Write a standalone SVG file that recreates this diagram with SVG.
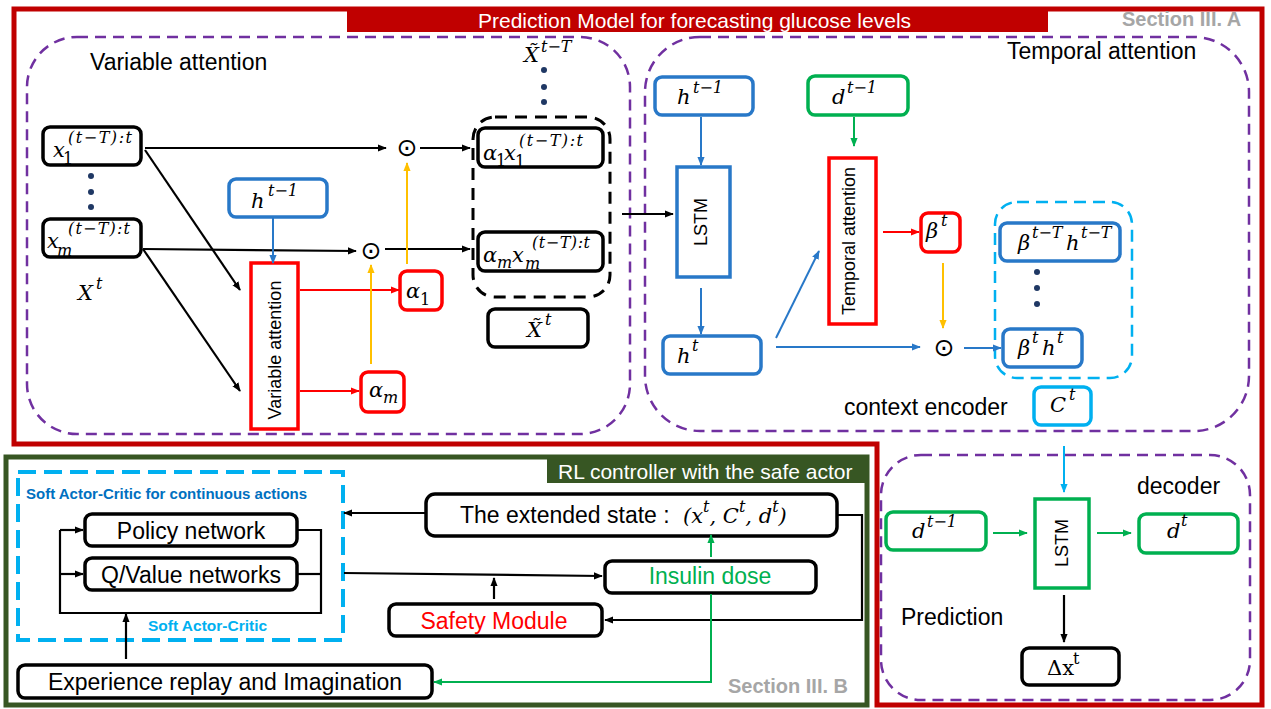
<svg xmlns="http://www.w3.org/2000/svg" width="1271" height="709" viewBox="0 0 1271 709">
<defs>
<style>
.lbl{font-family:"Liberation Sans",Arial,sans-serif;font-size:23px;fill:#000}
.m{font-family:"DejaVu Serif","Liberation Serif",serif;font-style:italic;font-size:21px;fill:#000}
.s{font-size:16px}
.up{font-style:normal}
.bk{fill:#fff;stroke:#000;stroke-width:3.5}
.bl{fill:#fff;stroke:#2878C8;stroke-width:3.5}
.rd{fill:#fff;stroke:#FF0000;stroke-width:3.5}
.gr{fill:#fff;stroke:#00B050;stroke-width:3.5}
.cy{fill:#fff;stroke:#00B0F0;stroke-width:3.5}
.pd{fill:none;stroke:#7030A0;stroke-width:2.5;stroke-dasharray:11 7}
.dot{fill:#1F3864}
.op{font-family:"DejaVu Sans",sans-serif;font-size:25px;fill:#000}
.k{fill:none;stroke:#000;stroke-width:2.2}
.b{fill:none;stroke:#2878C8;stroke-width:2}
.r{fill:none;stroke:#FF0000;stroke-width:2}
.g{fill:none;stroke:#00B050;stroke-width:2}
.y{fill:none;stroke:#FFC000;stroke-width:2}
.c{fill:none;stroke:#00B0F0;stroke-width:2}
.sec{font-family:"Liberation Sans",Arial,sans-serif;font-weight:bold;font-size:20px;fill:#A6A6A6}
.ban{font-family:"Liberation Sans",Arial,sans-serif;font-size:21px;fill:#fff}
.rot{font-family:"Liberation Sans",Arial,sans-serif;font-size:18px;fill:#000;text-anchor:middle}
</style>
<marker id="aK" viewBox="0 0 10 10" refX="9" refY="5" markerWidth="9" markerHeight="9" markerUnits="userSpaceOnUse" orient="auto"><path d="M0,1 L10,5 L0,9 Z" fill="#000"/></marker>
<marker id="aB" viewBox="0 0 10 10" refX="9" refY="5" markerWidth="9" markerHeight="9" markerUnits="userSpaceOnUse" orient="auto"><path d="M0,1 L10,5 L0,9 Z" fill="#2878C8"/></marker>
<marker id="aR" viewBox="0 0 10 10" refX="9" refY="5" markerWidth="9" markerHeight="9" markerUnits="userSpaceOnUse" orient="auto"><path d="M0,1 L10,5 L0,9 Z" fill="#FF0000"/></marker>
<marker id="aG" viewBox="0 0 10 10" refX="9" refY="5" markerWidth="9" markerHeight="9" markerUnits="userSpaceOnUse" orient="auto"><path d="M0,1 L10,5 L0,9 Z" fill="#00B050"/></marker>
<marker id="aY" viewBox="0 0 10 10" refX="9" refY="5" markerWidth="9" markerHeight="9" markerUnits="userSpaceOnUse" orient="auto"><path d="M0,1 L10,5 L0,9 Z" fill="#FFC000"/></marker>
<marker id="aC" viewBox="0 0 10 10" refX="9" refY="5" markerWidth="9" markerHeight="9" markerUnits="userSpaceOnUse" orient="auto"><path d="M0,1 L10,5 L0,9 Z" fill="#00B0F0"/></marker>
</defs>
<rect width="1271" height="709" fill="#fff"/>

<!-- Section frames -->
<g id="frame-prediction">
<path d="M14,9 H1262 V705 H877 V444 H14 Z" fill="none" stroke="#C00000" stroke-width="5"/>
<rect x="347" y="9" width="701" height="23" fill="#C00000"/>
<text class="ban" x="478" y="28">Prediction Model for forecasting glucose levels</text>
<text class="sec" x="1122" y="26">Section III. A</text>
</g>
<g id="frame-rl">
<rect x="6" y="457" width="861" height="248" fill="none" stroke="#375623" stroke-width="5"/>
<rect x="547" y="457" width="320" height="26" fill="#375623"/>
<text class="ban" x="558" y="479">RL controller with the safe actor</text>
<text class="sec" x="728" y="693">Section III. B</text>
</g>

<!-- Variable attention block -->
<g id="variable-attention-block">
<rect class="pd" x="27" y="37" width="603" height="397" rx="50"/>
<text class="lbl" x="90" y="70">Variable attention</text>
</g>
<g id="x1"><rect class="bk" x="43" y="127" width="98" height="38" rx="7"/><text class="m" x="53" y="157">x</text><text class="m s up" x="63" y="164">1</text><text class="m s" x="68" y="143" textLength="64" lengthAdjust="spacing">(t−T):t</text></g>
<g id="dots-x"><circle class="dot" cx="91" cy="176" r="3"/><circle class="dot" cx="91" cy="192" r="3"/><circle class="dot" cx="91" cy="207" r="3"/></g>
<g id="xm"><rect class="bk" x="43" y="219" width="98" height="38" rx="7"/><text class="m" x="47" y="248">x</text><text class="m s" x="57" y="256">m</text><text class="m s" x="68" y="234" textLength="62" lengthAdjust="spacing">(t−T):t</text></g>
<g id="Xt"><text class="m" x="78" y="300">X</text><text class="m s" x="96" y="289">t</text></g>
<g id="h-prev-va"><rect class="bl" x="229" y="179" width="98" height="38" rx="7"/><text class="m" x="251" y="208">h</text><text class="m s" x="268" y="196">t−1</text></g>
<g id="variable-attention"><rect class="rd" x="251" y="263" width="47" height="166"/><text class="rot" transform="translate(281,350) rotate(-90)">Variable attention</text></g>
<g id="alpha1"><rect class="rd" x="400" y="271" width="42" height="39" rx="7"/><text class="m" x="406" y="298">α</text><text class="m s up" x="420" y="305">1</text></g>
<g id="alpham"><rect class="rd" x="361" y="372" width="43" height="40" rx="7"/><text class="m" x="369" y="397">α</text><text class="m s" x="383" y="403">m</text></g>
<g id="odot1"><text class="op" x="407" y="156" text-anchor="middle">⊙</text></g>
<g id="odot2"><text class="op" x="371" y="259" text-anchor="middle">⊙</text></g>
<g id="xtilde-group">
<rect x="473" y="117" width="137" height="180" rx="22" fill="none" stroke="#000" stroke-width="3" stroke-dasharray="12 8"/>
<text class="m" x="524" y="62">X̃<tspan class="s" x="541" y="52">t−T</tspan></text>
<circle class="dot" cx="544" cy="70" r="3"/><circle class="dot" cx="544" cy="87" r="3"/><circle class="dot" cx="544" cy="102" r="3"/>
</g>
<g id="a1x1"><rect class="bk" x="478" y="128" width="125" height="39" rx="7"/><text class="m" x="483" y="160">α</text><text class="m s up" x="496" y="166">1</text><text class="m" x="504" y="160">x</text><text class="m s up" x="515" y="167">1</text><text class="m s" x="519" y="146" textLength="64" lengthAdjust="spacing">(t−T):t</text></g>
<g id="amxm"><rect class="bk" x="478" y="232" width="125" height="39" rx="7"/><text class="m" x="483" y="262">α</text><text class="m s" x="497" y="268">m</text><text class="m" x="512" y="262">x</text><text class="m s" x="525" y="269">m</text><text class="m s" x="532" y="248" textLength="58" lengthAdjust="spacing">(t−T):t</text></g>
<g id="Xtilde-t"><rect class="bk" x="488" y="309" width="100" height="38" rx="7"/><text class="m" x="527" y="337">X̃<tspan class="s" x="545" y="325">t</tspan></text></g>

<!-- Temporal attention block -->
<g id="temporal-attention-block">
<rect class="pd" x="645" y="37" width="604" height="394" rx="55"/>
<text class="lbl" x="1007" y="59">Temporal attention</text>
<text class="lbl" x="844" y="415">context encoder</text>
</g>
<g id="h-prev-ta"><rect class="bl" x="655" y="77" width="98" height="38" rx="7"/><text class="m" x="677" y="104">h</text><text class="m s" x="693" y="93">t−1</text></g>
<g id="d-prev-ta"><rect class="gr" x="808" y="76" width="100" height="39" rx="7"/><text class="m" x="832" y="104">d</text><text class="m s" x="847" y="93">t−1</text></g>
<g id="lstm-enc"><rect class="bl" x="677" y="167" width="53" height="110"/><text class="rot" transform="translate(707,222) rotate(-90)">LSTM</text></g>
<g id="temporal-attention"><rect class="rd" x="829" y="158" width="47" height="166"/><text class="rot" transform="translate(855,241) rotate(-90)">Temporal attention</text></g>
<g id="ht"><rect class="bl" x="663" y="336" width="98" height="38" rx="7"/><text class="m" x="677" y="363">h</text><text class="m s" x="692" y="351">t</text></g>
<g id="beta-t"><rect class="rd" x="921" y="213" width="39" height="39" rx="7"/><text class="m" x="926" y="238">β</text><text class="m s" x="941" y="226">t</text></g>
<g id="odot3"><text class="op" x="944" y="356" text-anchor="middle">⊙</text></g>
<g id="context-group">
<rect x="995" y="202" width="137" height="176" rx="22" fill="none" stroke="#00B0F0" stroke-width="2.5" stroke-dasharray="12 7"/>
<circle class="dot" cx="1037" cy="272" r="3"/><circle class="dot" cx="1037" cy="288" r="3"/><circle class="dot" cx="1037" cy="304" r="3"/>
</g>
<g id="beta-h-T"><rect class="bl" x="1000" y="223" width="120" height="38" rx="7"/><text class="m" x="1018" y="250">β</text><text class="m s" x="1032" y="238">t−T</text><text class="m" x="1066" y="250">h</text><text class="m s" x="1081" y="238">t−T</text></g>
<g id="beta-h-t"><rect class="bl" x="1003" y="329" width="79" height="38" rx="7"/><text class="m" x="1018" y="355">β</text><text class="m s" x="1032" y="343">t</text><text class="m" x="1042" y="355">h</text><text class="m s" x="1057" y="343">t</text></g>
<g id="Ct"><rect class="cy" x="1034" y="387" width="57" height="38" rx="7"/><text class="m" x="1050" y="412">C</text><text class="m s" x="1069" y="400">t</text></g>

<!-- Decoder block -->
<g id="decoder-block">
<rect class="pd" x="881" y="455" width="369" height="245" rx="40"/>
<text class="lbl" x="1137" y="494">decoder</text>
<text class="lbl" x="901" y="625">Prediction</text>
</g>
<g id="d-prev-dec"><rect class="gr" x="886" y="512" width="100" height="38" rx="7"/><text class="m" x="912" y="538">d</text><text class="m s" x="927" y="527">t−1</text></g>
<g id="lstm-dec"><rect class="gr" x="1035" y="499" width="54" height="89"/><text class="rot" transform="translate(1068,543) rotate(-90)">LSTM</text></g>
<g id="d-t"><rect class="gr" x="1139" y="514" width="99" height="39" rx="7"/><text class="m" x="1167" y="538">d</text><text class="m s" x="1181" y="526">t</text></g>
<g id="delta-x"><rect class="bk" x="1022" y="648" width="97" height="37" rx="7"/><text class="m up" x="1047" y="675">Δx</text><text class="m s up" x="1073" y="664">t</text></g>

<!-- RL controller -->
<g id="sac-block">
<rect x="18" y="472" width="325" height="168" fill="none" stroke="#00B0F0" stroke-width="4" stroke-dasharray="18 8"/>
<text x="26" y="499" font-family="Liberation Sans, Arial, sans-serif" font-weight="bold" font-size="15" fill="#0070C0">Soft Actor-Critic for continuous actions</text>
<text x="148" y="631" font-family="Liberation Sans, Arial, sans-serif" font-weight="bold" font-size="15.5" fill="#00B0F0">Soft Actor-Critic</text>
</g>
<g id="policy"><rect class="bk" x="85" y="514" width="212" height="32" rx="7"/><text class="lbl" x="191" y="539" text-anchor="middle">Policy network</text></g>
<g id="qvalue"><rect class="bk" x="85" y="558" width="212" height="32" rx="7"/><text class="lbl" x="191" y="583" text-anchor="middle">Q/Value networks</text></g>
<g id="experience"><rect class="bk" x="18" y="665" width="414" height="33" rx="7"/><text class="lbl" x="225" y="690" text-anchor="middle">Experience replay and Imagination</text></g>
<g id="extended-state"><rect class="bk" x="426" y="494" width="411" height="42" rx="9"/><text class="lbl" x="460" y="523">The extended state :</text><text class="m" x="683" y="523" font-size="22">(x<tspan class="s" dy="-11">t</tspan><tspan dy="11">, C</tspan><tspan class="s" dy="-11">t</tspan><tspan dy="11">, d</tspan><tspan class="s" dy="-11">t</tspan><tspan dy="11">)</tspan></text></g>
<g id="insulin"><rect class="bk" x="605" y="561" width="211" height="32" rx="7"/><text class="lbl" x="710" y="584" text-anchor="middle" style="fill:#00B050">Insulin dose</text></g>
<g id="safety"><rect class="bk" x="389" y="604" width="213" height="32" rx="7"/><text class="lbl" x="494" y="629" text-anchor="middle" style="fill:#FF0000">Safety Module</text></g>

<!-- Connectors -->
<g id="connectors">
<line class="k" x1="145" y1="148" x2="386" y2="148" marker-end="url(#aK)"/>
<line class="k" x1="420" y1="148" x2="470" y2="148" marker-end="url(#aK)"/>
<line class="k" x1="145" y1="150" x2="240" y2="290" marker-end="url(#aK)"/>
<line class="k" x1="143" y1="249" x2="356" y2="251" marker-end="url(#aK)"/>
<line class="k" x1="385" y1="249" x2="470" y2="249" marker-end="url(#aK)"/>
<line class="k" x1="143" y1="249" x2="240" y2="391" marker-end="url(#aK)"/>
<line class="b" x1="273" y1="218" x2="273" y2="263" marker-end="url(#aB)"/>
<line class="r" x1="300" y1="290" x2="399" y2="290" marker-end="url(#aR)"/>
<line class="r" x1="300" y1="391" x2="359" y2="391" marker-end="url(#aR)"/>
<line class="y" x1="371" y1="364" x2="371" y2="265" marker-end="url(#aY)"/>
<line class="y" x1="407" y1="264" x2="407" y2="163" marker-end="url(#aY)"/>
<line class="k" x1="622" y1="214" x2="673" y2="214" marker-end="url(#aK)"/>
<line class="b" x1="701" y1="117" x2="701" y2="165" marker-end="url(#aB)"/>
<line class="g" x1="854" y1="117" x2="854" y2="146" marker-end="url(#aG)"/>
<line class="b" x1="701" y1="288" x2="701" y2="334" marker-end="url(#aB)"/>
<line class="b" x1="776" y1="338" x2="819" y2="251" marker-end="url(#aB)"/>
<line class="b" x1="776" y1="347" x2="920" y2="347" marker-end="url(#aB)"/>
<line class="r" x1="883" y1="232" x2="919" y2="232" marker-end="url(#aR)"/>
<line class="y" x1="943" y1="263" x2="943" y2="328" marker-end="url(#aY)"/>
<line class="b" x1="964" y1="348" x2="1001" y2="348" marker-end="url(#aB)"/>
<line class="c" x1="1064" y1="446" x2="1064" y2="492" marker-end="url(#aC)"/>
<line class="g" x1="993" y1="533" x2="1027" y2="533" marker-end="url(#aG)"/>
<line class="g" x1="1097" y1="533" x2="1131" y2="533" marker-end="url(#aG)"/>
<line class="k" x1="1064" y1="595" x2="1064" y2="642" marker-end="url(#aK)"/>
<line class="k" x1="425" y1="513" x2="344" y2="513" marker-end="url(#aK)"/>
<line class="k" x1="344" y1="573" x2="602" y2="576" marker-end="url(#aK)"/>
<line class="k" x1="494" y1="599" x2="494" y2="578" marker-end="url(#aK)"/>
<line class="g" x1="711" y1="557" x2="711" y2="535" marker-end="url(#aG)"/>
<polyline class="k" points="838,515 862,515 862,620 605,620" marker-end="url(#aK)"/>
<polyline class="g" points="711,594 711,682 434,682" marker-end="url(#aG)"/>
<line class="k" x1="126" y1="659" x2="126" y2="614" marker-end="url(#aK)"/>
<polyline class="k" points="60,530 60,613 321,613 321,530 298,530"/>
<line class="k" x1="321" y1="574" x2="298" y2="574"/>
<line class="k" x1="60" y1="530" x2="83" y2="530" marker-end="url(#aK)"/>
<line class="k" x1="60" y1="574" x2="83" y2="574" marker-end="url(#aK)"/>
</g>
</svg>
